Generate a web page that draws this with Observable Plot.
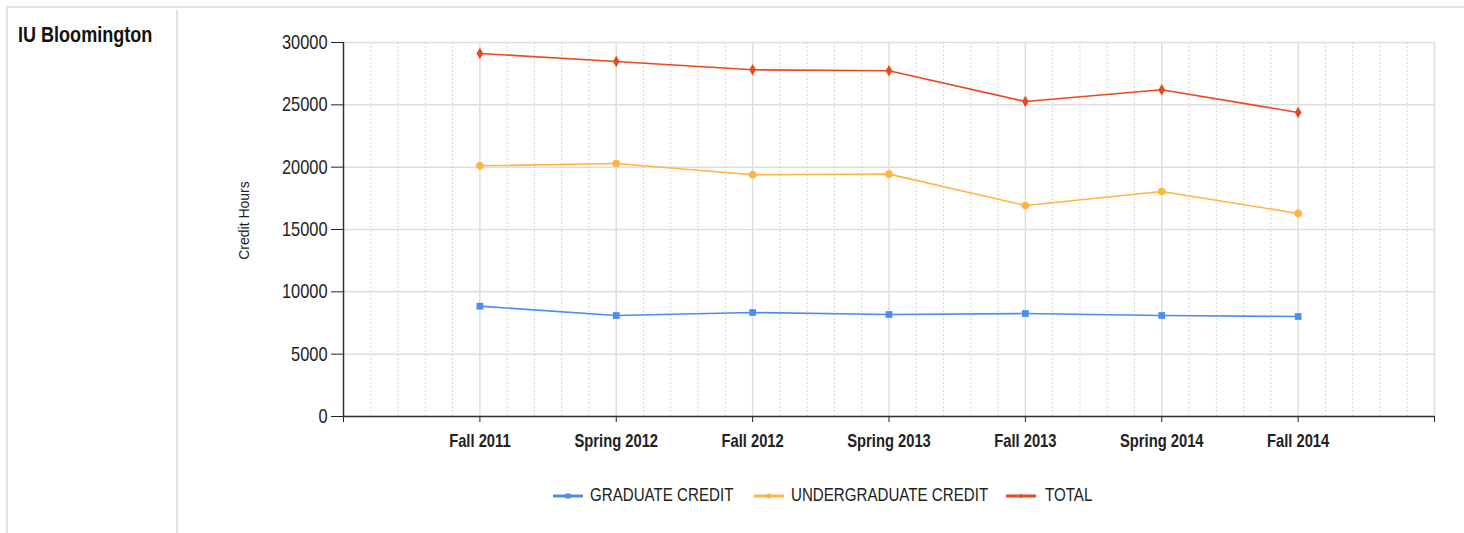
<!DOCTYPE html>
<html><head><meta charset="utf-8">
<script src="https://cdn.jsdelivr.net/npm/d3@7"></script>
<script src="https://cdn.jsdelivr.net/npm/@observablehq/plot@0.6"></script>
<style>
body{margin:0;background:#fff;width:1464px;height:533px;overflow:hidden;position:relative;font-family:"Liberation Sans",Arial,sans-serif;color:#222;}
#frameTop{position:absolute;left:6px;top:6px;width:1458px;border-top:2px solid #e2e2e2;}
#frameLeft{position:absolute;left:6px;top:6px;height:527px;border-left:2px solid #e2e2e2;}
#divider{position:absolute;left:176px;top:10px;height:523px;border-left:2px solid #e2e2e2;}
#title{position:absolute;left:18px;top:22px;font-weight:bold;font-size:22px;color:#111;transform:scaleX(0.82);transform-origin:0 0;white-space:nowrap;}
#chart{position:absolute;left:180px;top:12px;}
#legend{position:absolute;left:553px;top:485px;display:flex;align-items:center;font-size:18px;color:#222;}
.item{display:flex;align-items:center;}
.item svg{margin-right:7px;}
.item span{display:inline-block;transform:scaleX(0.84);transform-origin:0 50%;white-space:nowrap;}
</style></head>
<body>
<div id="frameTop"></div><div id="frameLeft"></div><div id="divider"></div>
<div id="title">IU Bloomington</div>
<div id="chart"></div>
<div id="legend"></div>
<script>
const terms = ["Fall 2011","Spring 2012","Fall 2012","Spring 2013","Fall 2013","Spring 2014","Fall 2014"];
const graduate = [8850, 8100, 8340, 8180, 8260, 8100, 8020];
const undergraduate = [20110, 20290, 19390, 19440, 16930, 18050, 16290];
const total = [29120, 28480, 27810, 27730, 25270, 26210, 24390];
const seriesNames = ["GRADUATE CREDIT","UNDERGRADUATE CREDIT","TOTAL"];
const seriesColors = ["#4a8ef0","#ffb443","#e8491d"];
const seriesSymbols = ["square","circle","diamond"];
const yTicks = [0,5000,10000,15000,20000,25000,30000];

const valuesBySeries = [graduate, undergraduate, total];
const rows = [];
valuesBySeries.forEach((vals, s) => vals.forEach((v, i) => rows.push({series: seriesNames[s], i, v})));

const majorX = d3.range(0, 8);
const minorX = d3.range(-1, 7, 0.2).map(d => Math.round(d * 10) / 10).filter(d => !Number.isInteger(d));

const marks = [
  Plot.ruleY(yTicks, {stroke: "#dedede", strokeWidth: 1.5}),
  Plot.ruleX(minorX, {stroke: "#d6d6d6", strokeDasharray: "2,2", strokeWidth: 1}),
  Plot.ruleX(majorX, {stroke: "#dedede", strokeWidth: 1.5}),
  Plot.axisY({ticks: yTicks, tickSize: 12, tickPadding: 4, fontSize: 20, tickFormat: d3.format("d"), label: null}),
  Plot.axisX({ticks: d3.range(-1, 8), tickSize: 6, tickPadding: 12, fontSize: 18, fontWeight: "bold", tickFormat: d => terms[d] ?? "", label: null}),
  Plot.ruleY([0], {stroke: "#333", strokeWidth: 1.5}),
  Plot.ruleX([-1], {stroke: "#333", strokeWidth: 1.5}),
  Plot.text(["Credit Hours"], {frameAnchor: "left", textAnchor: "middle", rotate: -90, dx: -99, dy: -9, fontSize: 14, fill: "#222"})
];
seriesNames.forEach((name, s) => {
  const data = rows.filter(r => r.series === name);
  marks.push(Plot.line(data, {x: "i", y: "v", stroke: seriesColors[s], strokeWidth: 1.6}));
  marks.push(Plot.dot(data, {x: "i", y: "v", fill: seriesColors[s], symbol: seriesSymbols[s], r: s === 2 ? 3.5 : 3.8, stroke: "none"}));
});

const chart = Plot.plot({
  width: 1284,
  height: 454,
  marginLeft: 163,
  marginRight: 30,
  marginTop: 30,
  marginBottom: 50,
  x: {type: "linear", domain: [-1, 7]},
  y: {domain: [0, 30000]},
  style: {fontFamily: "'Liberation Sans',Arial,sans-serif", color: "#222", background: "transparent"},
  marks
});
document.getElementById("chart").appendChild(chart);
// condense tick label glyphs (reference uses a narrow face)
chart.querySelectorAll('[aria-label="y-axis tick label"] text, [aria-label="x-axis tick label"] text').forEach(t => {
  t.setAttribute("transform", (t.getAttribute("transform") || "") + " scale(0.82,1)");
});

const legend = document.getElementById("legend");
const symPaths = {square: "M-3.5,-3.5h7v7h-7z", diamond: "M0,-3.5L3.5,0L0,3.5L-3.5,0z"};
const gaps = [21, 18, 0];
seriesNames.forEach((name, s) => {
  const item = document.createElement("div");
  item.className = "item";
  const sym = seriesSymbols[s];
  const marker = sym === "circle" ? `<circle cx="15" cy="5" r="2.5" fill="${seriesColors[s]}"/>` : `<path transform="translate(15,5) scale(0.7)" d="${symPaths[sym]}" fill="${seriesColors[s]}"/>`;
  item.innerHTML = `<svg width="30" height="10" style="margin-right:${s === 2 ? 9 : 7}px"><line x1="0" x2="30" y1="5" y2="5" stroke="${seriesColors[s]}" stroke-width="3"/>${marker}</svg><span>${name}</span>`;
  legend.appendChild(item);
  const span = item.querySelector("span");
  const w = span.offsetWidth;
  span.style.marginRight = (-0.16 * w + gaps[s]) + "px";
});
</script>
</body></html>
